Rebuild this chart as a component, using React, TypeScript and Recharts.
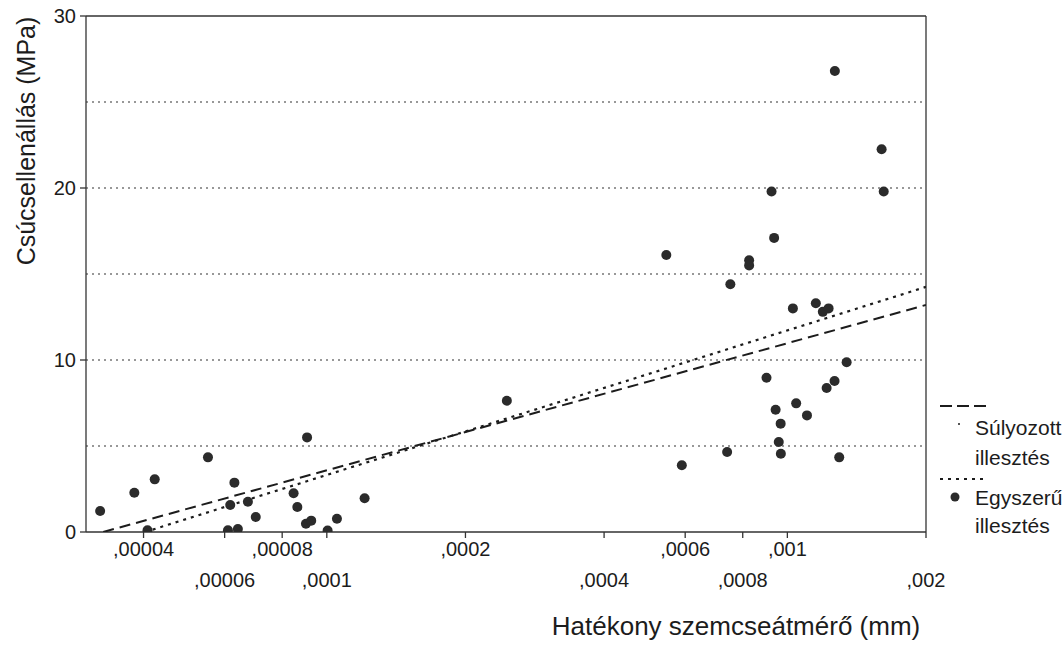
import React from 'react';
import { ScatterChart, Scatter, XAxis, YAxis, ReferenceLine, Legend } from 'recharts';

const FONT = '"Liberation Sans", Arial, Helvetica, sans-serif';
const INK = '#1c1c1c';

// X axis (log scale) ticks and their staggered labels
const xTickValues = [0.00004, 0.00006, 0.00008, 0.0001, 0.0002, 0.0004, 0.0006, 0.0008, 0.001, 0.002];
const xTickLabels = [',00004', ',00006', ',00008', ',0001', ',0002', ',0004', ',0006', ',0008', ',001', ',002'];
const yTickValues = [0, 10, 20, 30];
const gridValues = [5, 10, 15, 20, 25];

// Measured points: effective grain diameter (mm) and cone resistance (MPa)
const grainDiameter = [
  0.0000322, 0.0000382, 0.0000423, 0.0000408, 0.0000552, 0.000063, 0.0000617, 0.0000674, 0.000061, 0.0000641,
  0.0000701, 0.0000847, 0.0000863, 0.0000906, 0.0000901, 0.0000925, 0.0001004, 0.0001052, 0.0001208, 0.000246,
  0.000546, 0.00059, 0.00074, 0.000752, 0.000826, 0.000826, 0.000901, 0.000924, 0.000936, 0.000943,
  0.000958, 0.000967, 0.000968, 0.001028, 0.001045, 0.001103, 0.001153, 0.001194, 0.001217, 0.001229,
  0.001266, 0.001268, 0.001296, 0.001345, 0.001602, 0.001619,
];
const coneResistance = [
  1.22, 2.28, 3.06, 0.1, 4.34, 2.87, 1.57, 1.76, 0.1, 0.17,
  0.87, 2.25, 1.45, 5.5, 0.48, 0.66, 0.08, 0.77, 1.96, 7.63,
  16.1, 3.88, 4.65, 14.4, 15.8, 15.5, 8.97, 19.8, 17.1, 7.11,
  5.23, 6.3, 4.55, 13.0, 7.48, 6.78, 13.3, 12.8, 8.37, 13.0,
  8.78, 26.8, 4.34, 9.87, 22.25, 19.8,
];

// Fit lines (straight on the log-x axis)
const weightedFitX = [0.0000327, 0.002];
const weightedFitY = [0, 13.2];
const simpleFitX = [0.0000403, 0.002];
const simpleFitY = [0, 14.25];

const points = grainDiameter.map((x, i) => ({ x, y: coneResistance[i] }));
const weightedFit = weightedFitX.map((x, i) => ({ x, y: weightedFitY[i] }));
const simpleFit = simpleFitX.map((x, i) => ({ x, y: simpleFitY[i] }));

const StaggeredTick = (props: any) => {
  const { x, y, payload, index } = props;
  let idx = xTickValues.indexOf(payload?.value);
  if (idx < 0) idx = index ?? 0;
  const dy = idx % 2 === 0 ? 16 : 47;
  return (
    <text x={x} y={y + dy} textAnchor="middle" fontSize={20} fontFamily={FONT} fill={INK}>
      {xTickLabels[idx]}
    </text>
  );
};

const YTitle = () => (
  <text
    x={26}
    y={141}
    transform="rotate(-90, 26, 141)"
    textAnchor="middle"
    dominantBaseline="central"
    fontSize={25}
    fontFamily={FONT}
    fill={INK}
  >
    Csúcsellenállás (MPa)
  </text>
);

const XTitle = () => (
  <text x={736} y={635} textAnchor="middle" fontSize={26} fontFamily={FONT} fill={INK}>
    Hatékony szemcseátmérő (mm)
  </text>
);

const LegendBox = () => (
  <svg width={132} height={160} style={{ display: 'block' }}>
    <line x1={8} y1={18} x2={54} y2={18} stroke={INK} strokeWidth={1.8} strokeDasharray="12 5" />
    <circle cx={27} cy={36} r={1} fill={INK} />
    <text x={43} y={47} fontSize={21} fontFamily={FONT} fill={INK}>Súlyozott</text>
    <text x={43} y={77} fontSize={21} fontFamily={FONT} fill={INK}>illesztés</text>
    <line x1={8} y1={91} x2={56} y2={91} stroke={INK} strokeWidth={2} strokeDasharray="3 5" />
    <circle cx={23} cy={109} r={4.5} fill="#2b2b2b" />
    <text x={43} y={117} fontSize={21} fontFamily={FONT} fill={INK}>Egyszerű</text>
    <text x={43} y={145} fontSize={21} fontFamily={FONT} fill={INK}>illesztés</text>
  </svg>
);

const Dot = (p: any) => <circle cx={p.cx} cy={p.cy} r={5} fill="#2b2b2b" />;
const NoShape = () => <g />;

export default function App() {
  return (
    <div style={{ position: 'absolute', left: 0, top: 0, width: 1064, height: 648, background: '#fff' }}>
      <ScatterChart width={1064} height={648} margin={{ top: 16, right: 138, bottom: 36, left: 26 }}>
        <XAxis
          type="number"
          dataKey="x"
          scale="log"
          domain={[0.00003, 0.002]}
          allowDataOverflow
          ticks={xTickValues}
          interval={0}
          tick={<StaggeredTick />}
          tickSize={6}
          height={80}
          stroke="#333"
          axisLine={{ stroke: '#333', strokeWidth: 1.3 }}
          tickLine={{ stroke: '#333', strokeWidth: 1.3 }}
          label={<XTitle />}
        />
        <YAxis
          type="number"
          dataKey="y"
          domain={[0, 30]}
          allowDataOverflow
          ticks={yTickValues}
          interval={0}
          width={60}
          tickSize={6}
          tickMargin={4}
          tick={{ fontSize: 20, fontFamily: FONT, fill: INK }}
          axisLine={{ stroke: '#333', strokeWidth: 1.3 }}
          tickLine={{ stroke: '#333', strokeWidth: 1.3 }}
          label={<YTitle />}
        />
        {gridValues.map((v) => (
          <ReferenceLine key={v} y={v} stroke="#333" strokeWidth={1.2} strokeDasharray="2 4" />
        ))}
        <ReferenceLine y={30} stroke="#333" strokeWidth={1.3} />
        <ReferenceLine x={0.002} stroke="#333" strokeWidth={1.3} />
        <Scatter
          data={weightedFit}
          line={{ stroke: INK, strokeWidth: 2, strokeDasharray: '11 6' }}
          shape={<NoShape />}
          isAnimationActive={false}
          legendType="none"
        />
        <Scatter
          data={simpleFit}
          line={{ stroke: INK, strokeWidth: 2.2, strokeDasharray: '3 5' }}
          shape={<NoShape />}
          isAnimationActive={false}
          legendType="none"
        />
        <Scatter data={points} shape={<Dot />} isAnimationActive={false} legendType="none" />
        <Legend
          layout="vertical"
          align="center"
          verticalAlign="middle"
          wrapperStyle={{ left: 932, top: 388, width: 132, height: 160 }}
          content={() => <LegendBox />}
        />
      </ScatterChart>
    </div>
  );
}
